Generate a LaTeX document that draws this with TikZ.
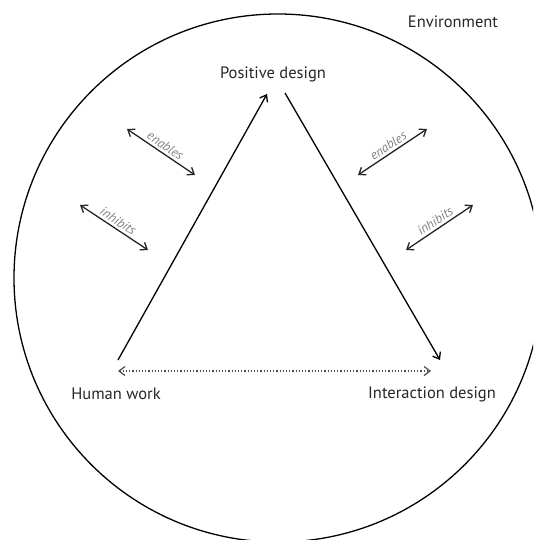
\documentclass[tikz,border=0pt]{standalone}
\usepackage{fontspec}
\setmainfont{PT Sans}
\usetikzlibrary{arrows.meta}

\begin{document}
\begin{tikzpicture}[x=1pt,y=-1pt,
    >={Straight Barb[length=6pt,width=9pt]},
    vertex/.style={text=black!85, font=\fontsize{16.5}{19}\selectfont},
    rel/.style={<->, line width=1.3pt, black!85},
    tag/.style={text=black!50, font=\itshape\fontsize{13}{15}\selectfont, inner sep=2.5pt}]

\useasboundingbox (0,0) rectangle (533,540);
\clip (0,0) rectangle (533,540);

% environment
\draw[line width=1.3pt] (278,278) circle[radius=264pt];
\node[vertex] (env) at (453,22) {Environment};

% corners of the triangle
\node[vertex] (pd) at (273,74) {Positive design};
\node[vertex] (hw) at (116,394) {Human work};
\node[vertex] (id) at (432,394) {Interaction design};

\coordinate (hw1) at (118,360);
\coordinate (pd1) at (267,94);
\coordinate (pd2) at (285,93);
\coordinate (id1) at (440,360);
\coordinate (hw2) at (118,371);
\coordinate (id2) at (431,371);

\draw[->, line width=1.3pt] (hw1) -- (pd1);
\draw[->, line width=1.3pt] (pd2) -- (id1);
\draw[<->, dotted, line width=1.2pt, black!70] (hw2) -- (id2);

% enables / inhibits
\coordinate (e1) at (127,129);
\coordinate (e2) at (195,175);
\coordinate (i1) at (80,205);
\coordinate (i2) at (148,250);
\coordinate (e3) at (358,175);
\coordinate (e4) at (427,129);
\coordinate (i3) at (406,250);
\coordinate (i4) at (473,205);

\draw[rel] (e1) -- (e2) node[tag, midway, above, sloped] (en1) {enables};
\draw[rel] (i1) -- (i2) node[tag, midway, above, sloped] (in1) {inhibits};
\draw[rel] (e3) -- (e4) node[tag, midway, above, sloped] (en2) {enables};
\draw[rel] (i3) -- (i4) node[tag, midway, above, sloped] (in2) {inhibits};

\end{tikzpicture}
\end{document}
